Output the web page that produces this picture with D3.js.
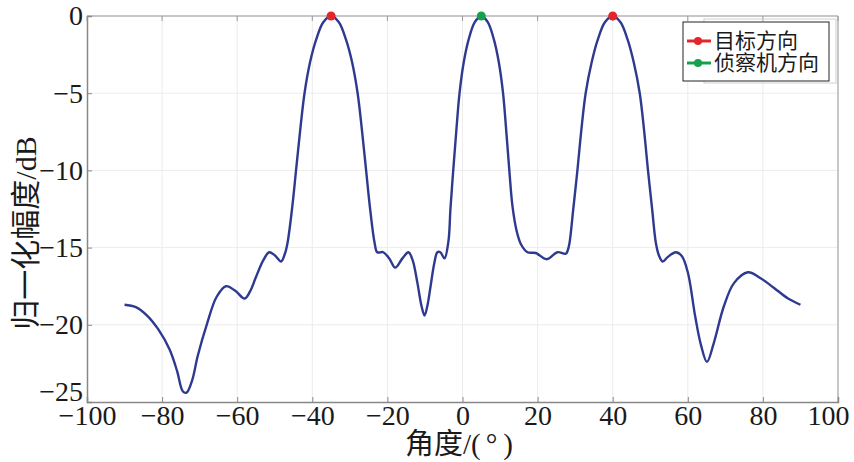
<!DOCTYPE html>
<html>
<head>
<meta charset="utf-8">
<script src="https://cdn.jsdelivr.net/npm/d3@7"></script>
<style>
  body { margin: 0; background: #fff; }
  svg text { font-family: "Liberation Serif", "Noto Sans CJK SC", serif; fill: #1a1a1a; }
</style>
</head>
<body>
<svg id="chart" width="854" height="462"></svg>
<script>
// beam pattern

var angles = [
  -90, -87, -84, -81, -78, -76, -74.5, -73.5, -72, -70.5, -68, -65.5, -63, -60.5, -58,
  -56.5, -55, -53, -51.5, -50, -48.3, -47.3,
  -46.6, -45.4, -44.33, -43.27, -42.07, -40.6, -39, -37.08, -35,
  -32.92, -31, -29.4, -27.93, -26.73, -25.67, -24.6, -23.4, -22.7,
  -21.1, -19.5, -17.9, -16, -14.4, -13.3, -12, -10.9, -10.1, -9.3, -8.5, -7.5, -6.7, -5.9, -4.8,
  -3.75, -3.21, -2.47, -1.67, -0.79, 0.33, 1.61, 3.27, 5,
  6.73, 8.39, 9.67, 10.8, 11.67, 12.47, 13.3, 14.4, 15.6, 17.3,
  19.5, 22.4, 25.3, 27.5, 28.0,
  28.5, 29.5, 30.6, 31.6, 32.8, 34.4, 36, 37.92, 40,
  42.08, 44, 45.6, 47.2, 48.4, 49.4, 50.5, 51.5, 52.3, 53.3,
  54.7, 56.8, 58.4, 60, 62, 63.5, 65.1, 66.9, 69.6, 72.3, 76, 79.5, 82.9, 86.7, 90
];

var gains = [
  -18.7, -18.85, -19.4, -20.3, -21.6, -23.0, -24.3, -24.4, -23.6, -22.0, -19.9, -18.2, -17.5, -17.8, -18.3,
  -17.8, -16.9, -15.8, -15.3, -15.5, -15.9, -15.4,
  -14.7, -12.5, -10, -7.5, -5, -3, -1.55, -0.4, 0,
  -0.4, -1.55, -3, -5, -7.5, -10, -12.5, -14.7, -15.3,
  -15.3, -15.7, -16.3, -15.7, -15.3, -15.8, -17.3, -18.8, -19.4, -18.7, -17.5, -16.0, -15.3, -15.3, -15.7,
  -14.6, -12.5, -10, -7.5, -5, -3, -1.55, -0.4, 0,
  -0.4, -1.55, -3, -5, -7.5, -10, -12.3, -13.9, -14.8, -15.3,
  -15.35, -15.75, -15.3, -15.4, -15.2,
  -14.7, -12.5, -10, -7.5, -5, -3, -1.55, -0.4, 0,
  -0.4, -1.55, -3, -5, -7.5, -10, -12.5, -14.7, -15.5, -15.9,
  -15.6, -15.3, -15.55, -16.6, -19.5, -21.3, -22.4, -21.2, -18.8, -17.3, -16.6, -17.0, -17.6, -18.3, -18.7
];

var targetAngles = [-35, 40];
var reconAngles = [5];

var xTicks = [-100, -80, -60, -40, -20, 0, 20, 40, 60, 80, 100];
var yTicks = [0, -5, -10, -15, -20, -25];

var legendLabels = ["目标方向", "侦察机方向"];
var legendColors = ["#e3262b", "#17a04c"];

var lineColor = "#2d3a8f";

var svg = d3.select("#chart");
var plotLeft = 87, plotRight = 838, plotTop = 16, plotBottom = 402;

var x = d3.scaleLinear().domain([-100, 100]).range([plotLeft, plotRight]);
var y = d3.scaleLinear().domain([-25, 0]).range([plotBottom, plotTop]);

svg.append("rect").attr("width", 854).attr("height", 462).attr("fill", "#fff");

// grid
var grid = svg.append("g");
grid.selectAll(".gx").data(xTicks.slice(1, -1)).enter().append("line")
  .attr("x1", function (d) { return x(d); })
  .attr("x2", function (d) { return x(d); })
  .attr("y1", plotTop).attr("y2", plotBottom)
  .attr("stroke", "#ececec").attr("stroke-width", 1);
grid.selectAll(".gy").data(yTicks.slice(1, -1)).enter().append("line")
  .attr("y1", function (d) { return y(d); })
  .attr("y2", function (d) { return y(d); })
  .attr("x1", plotLeft).attr("x2", plotRight)
  .attr("stroke", "#ececec").attr("stroke-width", 1);

// box: top and right lighter
svg.append("line").attr("x1", plotLeft).attr("x2", plotRight).attr("y1", plotTop).attr("y2", plotTop)
  .attr("stroke", "#b5b5b5").attr("stroke-width", 1.5);
svg.append("line").attr("x1", plotRight).attr("x2", plotRight).attr("y1", plotTop).attr("y2", plotBottom)
  .attr("stroke", "#b5b5b5").attr("stroke-width", 1.5);

// axes, ticks inward
var fmt = function (d) { return d < 0 ? "\u2212" + (-d) : d; };
var xAxis = d3.axisBottom(x).tickValues(xTicks).tickSize(-5).tickPadding(6).tickFormat(fmt);
var yAxis = d3.axisLeft(y).tickValues(yTicks).tickSize(-5).tickPadding(4).tickFormat(fmt);

var gx = svg.append("g").attr("transform", "translate(0," + plotBottom + ")").call(xAxis);
var gy = svg.append("g").attr("transform", "translate(" + plotLeft + ",0)").call(yAxis);

[gx, gy].forEach(function (g) {
  g.select(".domain").attr("stroke", "#888").attr("stroke-width", 1.5);
  g.selectAll(".tick line").attr("stroke", "#888");
  g.selectAll(".tick text")
    .style("font-family", "'Liberation Serif', serif")
    .style("font-size", "28px")
    .attr("fill", "#1a1a1a");
});
gx.selectAll(".tick text").attr("dy", "0.6em");
gx.selectAll(".tick").filter(function (d) { return d === 100; }).select("text").attr("dx", -10);
// lowest y label sits a bit higher, like the original
gy.selectAll(".tick").filter(function (d) { return d === -25; }).select("text").attr("dy", "-0.05em");

// top ticks
svg.append("g").selectAll("line").data(xTicks).enter().append("line")
  .attr("x1", function (d) { return x(d); }).attr("x2", function (d) { return x(d); })
  .attr("y1", plotTop).attr("y2", plotTop + 5).attr("stroke", "#999");

// curve
var pts = angles.map(function (a, i) { return [a, gains[i]]; });
var line = d3.line()
  .x(function (d) { return x(d[0]); })
  .y(function (d) { return y(d[1]); })
  .curve(d3.curveCatmullRom.alpha(0.5));

svg.append("path").datum(pts)
  .attr("d", line)
  .attr("fill", "none")
  .attr("stroke", lineColor)
  .attr("stroke-width", 2.4)
  .attr("stroke-linejoin", "round");

// markers
svg.selectAll(".tgt").data(targetAngles).enter().append("circle")
  .attr("cx", function (d) { return x(d); }).attr("cy", y(0)).attr("r", 4.5)
  .attr("fill", legendColors[0]);
svg.selectAll(".rec").data(reconAngles).enter().append("circle")
  .attr("cx", function (d) { return x(d); }).attr("cy", y(0)).attr("r", 4.5)
  .attr("fill", legendColors[1]);

// axis titles
svg.append("text")
  .attr("transform", "translate(36,233) rotate(-90)")
  .attr("text-anchor", "middle")
  .style("font-size", "30px")
  .text("归一化幅度/dB");

var xt = svg.append("text")
  .attr("x", 459).attr("y", 454)
  .attr("text-anchor", "middle")
  .style("font-size", "29px");
xt.append("tspan").text("角度/(");
xt.append("tspan").attr("dx", 5).text("°");
xt.append("tspan").attr("dx", 6).text(")");

// legend
svg.append("rect").attr("x", 704).attr("y", 19).attr("width", 132).attr("height", 64)
  .attr("fill", "none").attr("stroke", "#cfcfcf");
var lg = svg.append("g");
lg.append("rect").attr("x", 683).attr("y", 22).attr("width", 146).attr("height", 59)
  .attr("fill", "#fff").attr("stroke", "#222").attr("stroke-width", 1);

legendLabels.forEach(function (lab, i) {
  var cy = 41 + i * 22;
  lg.append("line").attr("x1", 687).attr("x2", 711).attr("y1", cy).attr("y2", cy)
    .attr("stroke", legendColors[i]).attr("stroke-width", 3);
  lg.append("circle").attr("cx", 698).attr("cy", cy).attr("r", 4).attr("fill", legendColors[i]);
  lg.append("text").attr("x", 714).attr("y", cy + 7)
    .style("font-size", "21px")
    .text(lab);
});
</script>
</body>
</html>
